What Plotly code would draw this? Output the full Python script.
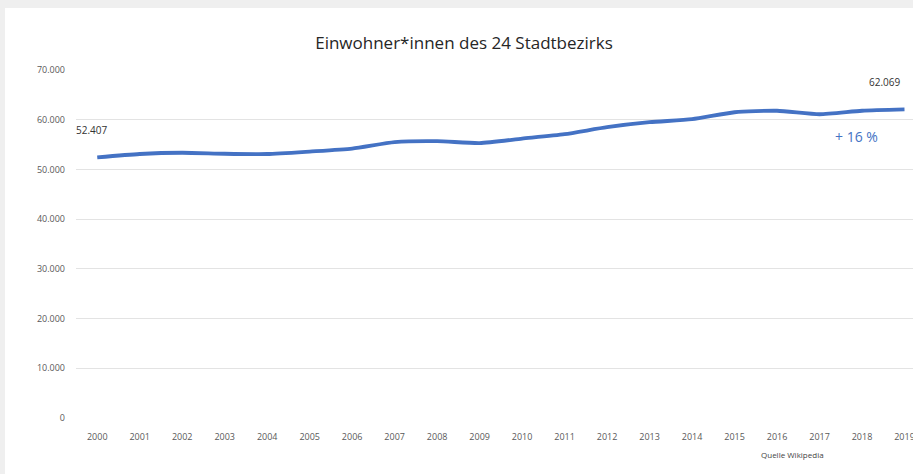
import plotly.graph_objects as go

years = [str(y) for y in range(2000, 2020)]
population = [52407, 53100, 53350, 53150, 53100, 53600, 54200, 55500, 55700, 55300,
              56200, 57100, 58500, 59500, 60100, 61500, 61800, 61100, 61800, 62069]
y_tickvals = [0, 10000, 20000, 30000, 40000, 50000, 60000, 70000]
y_ticktext = ["0", "10.000", "20.000", "30.000", "40.000", "50.000", "60.000", "70.000"]

L, R, T, B = 76, 0, 70, 56
W, H = 913, 474
pw, ph = W - L - R, H - T - B

def px(x):
    return (x - L) / pw

def py(y):
    return (H - B - y) / ph

fig = go.Figure()
fig.add_trace(go.Scatter(
    x=list(range(len(years))), y=population, mode="lines",
    line=dict(color="#4472C4", width=3.8, shape="spline", smoothing=0.6),
    hoverinfo="skip", showlegend=False,
))

fig.update_layout(
    width=W, height=H,
    margin=dict(l=L, r=R, t=T, b=B, autoexpand=False),
    paper_bgcolor="white", plot_bgcolor="white",
    title=dict(text="Einwohner*innen des 24 Stadtbezirks", x=464 / W, xanchor="center",
               y=1 - 43 / H, yanchor="middle",
               font=dict(family="Open Sans, sans-serif", size=17, color="#262626")),
    xaxis=dict(range=[-0.5, 19.2], tickvals=list(range(len(years))), ticktext=years,
               showgrid=False, zeroline=False, showline=False, ticks="",
               ticklabelstandoff=12, ticklabeloverflow="allow",
               tickfont=dict(family="Open Sans, sans-serif", size=9, color="#595959"),
               fixedrange=True),
    yaxis=dict(range=[0, 70000], tickvals=y_tickvals, ticktext=y_ticktext,
               showgrid=True, gridcolor="#e3e3e3", gridwidth=1, zeroline=False,
               ticks="", ticklabelstandoff=10,
               tickfont=dict(family="Open Sans, sans-serif", size=9, color="#595959"),
               fixedrange=True),
    shapes=[
        dict(type="rect", xref="paper", yref="paper", x0=px(-2), x1=px(W + 2), y0=py(8), y1=py(-2),
             fillcolor="#efefef", line=dict(width=0), layer="below"),
        dict(type="rect", xref="paper", yref="paper", x0=px(-2), x1=px(5), y0=py(H + 2), y1=py(-2),
             fillcolor="#efefef", line=dict(width=0), layer="below"),
    ],
    annotations=[
        dict(x=0, y=population[0], xref="x", yref="y", text=f"{population[0]:,}".replace(",", "."),
             showarrow=False, xshift=-6, yshift=27,
             font=dict(family="Open Sans, sans-serif", size=10, color="#333333")),
        dict(x=19, y=population[-1], xref="x", yref="y", text=f"{population[-1]:,}".replace(",", "."),
             showarrow=False, xshift=-20, yshift=27,
             font=dict(family="Open Sans, sans-serif", size=10, color="#333333")),
        dict(x=18, y=population[-1], xref="x", yref="y", text="+ 16 %",
             showarrow=False, xshift=-6, yshift=-27,
             font=dict(family="Open Sans, sans-serif", size=14, color="#4472C4")),
        dict(x=px(792), y=py(454), xref="paper", yref="paper", text="Quelle Wikipedia",
             xanchor="center", yanchor="middle",
             showarrow=False, font=dict(family="Open Sans, sans-serif", size=8, color="#444444")),
    ],
)

fig.write_html("out.html")
